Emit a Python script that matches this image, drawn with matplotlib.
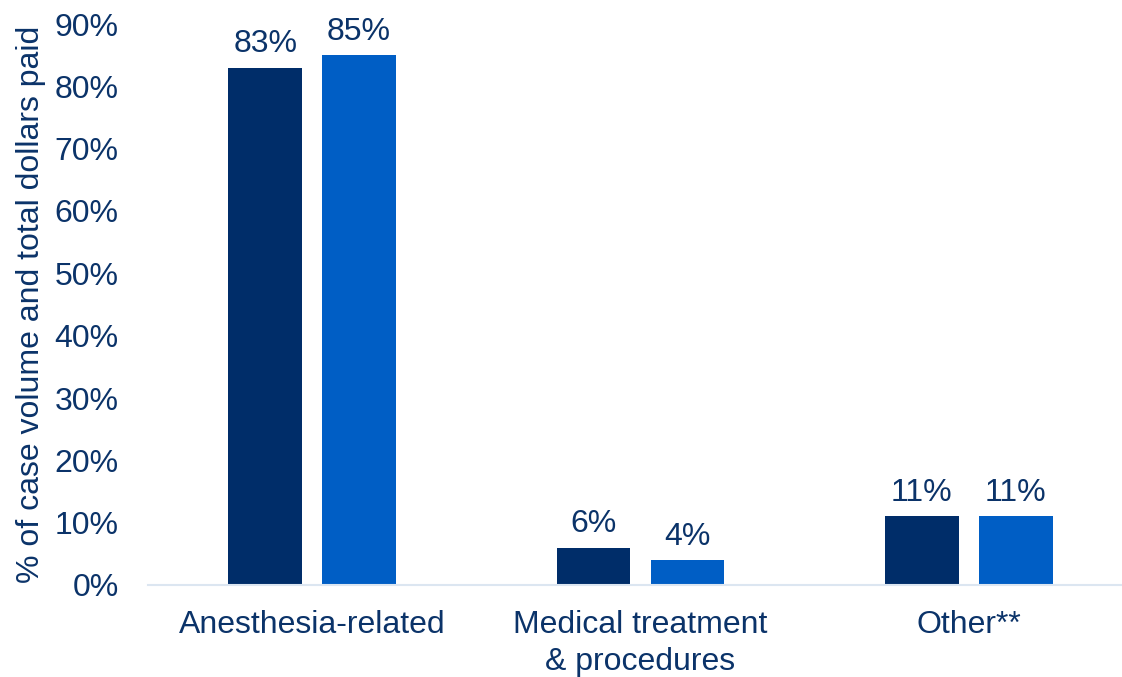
import matplotlib.pyplot as plt
import numpy as np

# Data
categories = ["Anesthesia-related", "Medical treatment\n& procedures", "Other**"]
case_volume = [83, 6, 11]
dollars_paid = [85, 4, 11]
y_ticks = [0, 10, 20, 30, 40, 50, 60, 70, 80, 90]

dark_blue = "#002D69"
bright_blue = "#005EC5"
text_color = "#0B3369"

plt.rcParams["font.family"] = ["Liberation Sans", "DejaVu Sans"]

fig = plt.figure(figsize=(11.22, 6.77), dpi=100)
fig.patch.set_facecolor("white")

# Axes placed to match the reference pixel layout
ax = fig.add_axes([148 / 1122, (677 - 585) / 677, (1133 - 148) / 1122, (585 - 24) / 677])

x = np.arange(len(categories))
width = 0.225
offset = 0.143

bars1 = ax.bar(x - offset, case_volume, width, color=dark_blue)
bars2 = ax.bar(x + offset, dollars_paid, width, color=bright_blue)

# Value labels above bars
for bars in (bars1, bars2):
    for b in bars:
        ax.annotate(f"{b.get_height():.0f}%",
                    (b.get_x() + b.get_width() / 2, b.get_height()),
                    xytext=(0, 6), textcoords="offset points",
                    ha="center", va="bottom", fontsize=23, color=text_color)

ax.set_xlim(-0.5, 2.5)
ax.set_ylim(0, 90)
ax.set_yticks(y_ticks)
ax.set_yticklabels([f"{t}%" for t in y_ticks])
ax.set_xticks(x)
ax.set_xticklabels(categories, linespacing=1.3)

ax.tick_params(axis="y", length=0, pad=21, labelsize=23, labelcolor=text_color)
ax.tick_params(axis="x", length=0, pad=18, labelsize=23, labelcolor=text_color)

ax.set_ylabel("% of case volume and total dollars paid", fontsize=23, color=text_color, labelpad=6)

# Only a light baseline, no other spines
for side in ("top", "right", "left"):
    ax.spines[side].set_visible(False)
ax.spines["bottom"].set_color("#DCE6F1")
ax.spines["bottom"].set_linewidth(1.5)

fig.savefig("out.png", dpi=100)
